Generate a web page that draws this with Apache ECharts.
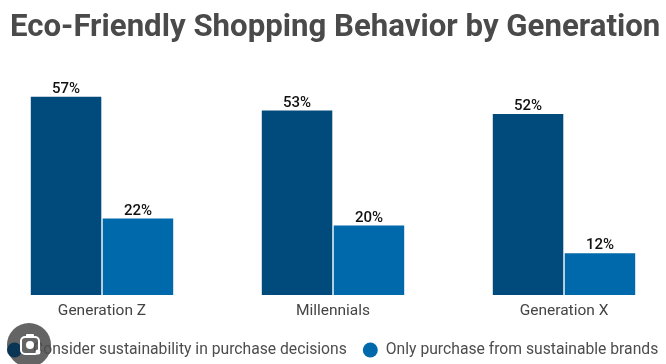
<!DOCTYPE html>
<html>
<head>
<meta charset="utf-8">
<style>
  html, body { margin: 0; padding: 0; background: #fff; }
  #chart { width: 666px; height: 364px; }
</style>
<script src="https://cdn.jsdelivr.net/npm/echarts@6/dist/echarts.min.js"></script>
</head>
<body>
<div id="chart"></div>
<script>
const titleText = 'Eco-Friendly Shopping Behavior by Generation';
const generations = ['Generation Z', 'Millennials', 'Generation X'];
const considerName = 'Consider sustainability in purchase decisions';
const considerValues = [57, 53, 52];
const onlyName = 'Only purchase from sustainable brands';
const onlyValues = [22, 20, 12];

const myChart = echarts.init(document.getElementById('chart'), null, {renderer: 'canvas'});

function barSeries(name, data, color) {
  return {
    name,
    type: 'bar',
    data,
    barWidth: 70.5,
    barGap: '2%',
    itemStyle: {color},
    label: {
      show: true,
      position: 'top',
      distance: 0,
      formatter: '{c}%',
      fontFamily: 'Roboto',
      fontSize: 15,
      fontWeight: 500,
      color: '#111111'
    }
  };
}

myChart.setOption({
  animation: false,
  backgroundColor: '#ffffff',
  title: {
    text: titleText,
    left: 5,
    top: 8,
    textStyle: {fontFamily: 'Roboto', fontSize: 31.2, fontWeight: 'bold', color: '#4a4a4a'}
  },
  legend: {
    left: 7,
    top: 342,
    padding: 0,
    itemWidth: 15,
    itemHeight: 15,
    itemGap: 16,
    icon: 'circle',
    textStyle: {fontFamily: 'Roboto', fontSize: 15.7, color: '#4d4d4d', padding: [0, 0, 0, 3]},
    data: [
      {name: considerName, itemStyle: {color: '#0b3554'}, textStyle: {padding: [0, 0, 0, 6]}},
      {name: onlyName}
    ]
  },
  grid: {left: -13.5, width: 693, top: 41, bottom: 69, outerBoundsMode: 'none'},
  xAxis: {
    type: 'category',
    data: generations,
    axisLine: {show: false},
    axisTick: {show: false},
    axisLabel: {fontFamily: 'Roboto', fontSize: 15.5, color: '#444444', margin: 8}
  },
  yAxis: {
    type: 'value',
    min: 0,
    max: 73,
    show: false
  },
  series: [
    barSeries(considerName, considerValues, '#004a7c'),
    barSeries(onlyName, onlyValues, '#0069ab')
  ],
  // badge that sits over the lower left corner of the source image
  graphic: [
    {type: 'circle', shape: {cx: 29, cy: 345, r: 22}, style: {fill: '#646464'}, z: 1},
    {type: 'rect', shape: {x: 21, y: 337, width: 18, height: 17, r: 4}, style: {fill: 'none', stroke: '#ffffff', lineWidth: 2}, z: 100},
    {type: 'rect', shape: {x: 26, y: 334, width: 8, height: 3, r: 1}, style: {fill: '#ffffff'}, z: 100},
    {type: 'circle', shape: {cx: 30, cy: 345, r: 4}, style: {fill: '#ffffff'}, z: 100},
    {type: 'circle', shape: {cx: 38, cy: 352, r: 2.5}, style: {fill: '#ffffff'}, z: 100}
  ]
});

window.addEventListener('resize', () => {
  myChart.resize();
});
</script>
</body>
</html>
